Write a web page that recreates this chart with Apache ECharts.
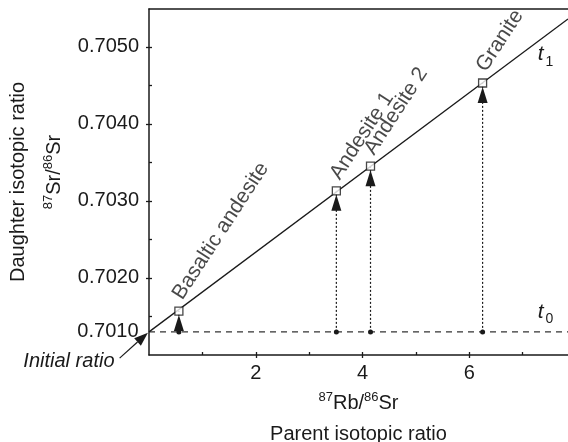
<!DOCTYPE html>
<html>
<head>
<meta charset="utf-8">
<script src="https://cdn.jsdelivr.net/npm/echarts@6/dist/echarts.min.js"></script>
<style>
html, body { margin: 0; background: #fff; }
#chart { width: 568px; height: 442px; }
</style>
</head>
<body>
<div id="chart"></div>
<script>
// samples on the isochron
var rockNames = ['Basaltic andesite', 'Andesite 1', 'Andesite 2', 'Granite'];
var rbSr = [0.56, 3.51, 4.15, 6.25];          // 87Rb/86Sr
var srSr = [0.70157, 0.70313, 0.70345, 0.70453]; // 87Sr/86Sr now (t1)
// t0 line and isochron ends
var initialRatio = 0.70130;
var initialLabel = '0.7010';
var isochronX = [0, 7.85];
var isochronY = [0.70130, 0.70536];
// "Initial ratio" pointer (data coords, left of the axis)
var pointerX = [-0.55, -0.02];
var pointerY = [0.70096, 0.70129];
var pointerText = [-1.50, 0.70091];
// axis ticks
var xMin = 0, xMax = 7.85;
var yMin = 0.7010, yMax = 0.70549;
var xMajor = [2, 4, 6];
var xMinor = [1, 2, 3, 4, 5, 6, 7];
var yMajor = [0.7020, 0.7030, 0.7040, 0.7050];
var yMinor = [0.7015, 0.7020, 0.7025, 0.7030, 0.7035, 0.7040, 0.7045, 0.7050];
var t1Pos = [7.43, 0.70490];
var t0Pos = [7.43, 0.70156];

var FONT = "'Liberation Sans', Arial, Helvetica, sans-serif";
var INK = '#1a1a1a';

var chart = echarts.init(document.getElementById('chart'));

function tLabel(sub) {
    return {
        show: true,
        position: 'inside',
        formatter: '{t|t}{s|' + sub + '}',
        rich: {
            t: { fontFamily: FONT, fontStyle: 'italic', fontSize: 21, color: INK, verticalAlign: 'bottom' },
            s: { fontFamily: FONT, fontSize: 14, color: INK, verticalAlign: 'bottom', padding: [0, 0, -4, 2] }
        }
    };
}

function supRich(lh, lead) {
    return {
        m: { fontFamily: FONT, fontSize: 20, color: INK, lineHeight: lh },
        u: { fontFamily: FONT, fontSize: 13, color: INK, lineHeight: lh, verticalAlign: 'top', padding: [lh / 2 - 12, 0, 0, 0] },
        p: { fontFamily: FONT, fontSize: 13, color: INK, lineHeight: lh, verticalAlign: 'top', padding: [lh / 2 - 12, 0, 0, lead] }
    };
}

var series = [];

// isochron t1
series.push({
    type: 'line',
    clip: false,
    data: isochronX.map(function (x, i) { return [x, isochronY[i]]; }),
    symbol: 'none',
    lineStyle: { color: INK, width: 1.3 },
    z: 3,
    markPoint: {
        symbol: 'circle',
        symbolSize: 1,
        itemStyle: { color: 'rgba(0,0,0,0)' },
        data: [{ coord: t1Pos, label: tLabel('1') }]
    }
});

// t0 dashed line
series.push({
    type: 'line',
    clip: false,
    data: [[xMin, initialRatio], [xMax, initialRatio]],
    symbol: 'none',
    lineStyle: { color: '#333', width: 1.3, type: [6, 5] },
    z: 2,
    markPoint: {
        symbol: 'circle',
        symbolSize: 1,
        itemStyle: { color: 'rgba(0,0,0,0)' },
        data: [
            { coord: t0Pos, label: tLabel('0') },
            { coord: [0, initialRatio], label: { show: true, position: 'left', distance: 10, formatter: initialLabel,
                fontFamily: FONT, fontSize: 20, color: INK } }
        ]
    }
});

// dotted arrows from t0 up to each sample
rbSr.forEach(function (x, i) {
    series.push({
        type: 'line',
        data: [
            { value: [x, initialRatio], symbol: 'circle', symbolSize: 5 },
            { value: [x, srSr[i]], symbol: 'triangle', symbolSize: [10, 16], symbolOffset: [0, 12] }
        ],
        showSymbol: true,
        itemStyle: { color: INK },
        lineStyle: { color: INK, width: 1.2, type: [2, 2] },
        z: 3
    });
});

// samples
series.push({
    type: 'scatter',
    data: rbSr.map(function (x, i) { return { value: [x, srSr[i]], name: rockNames[i] }; }),
    symbol: 'rect',
    symbolSize: 8,
    itemStyle: { color: '#fff', borderColor: INK, borderWidth: 1.3 },
    z: 5,
    label: {
        show: true,
        formatter: '{b}',
        position: [12, -3],
        align: 'left',
        verticalAlign: 'bottom',
        rotate: 57,
        fontFamily: FONT,
        fontSize: 21,
        color: INK
    }
});

chart.setOption({
    animation: false,
    grid: { left: 149, right: 0, top: 9, bottom: 87, containLabel: false, outerBoundsMode: 'none' },
    xAxis: [{
        type: 'value', min: xMin, max: xMax, interval: 2, position: 'bottom',
        axisLine: { lineStyle: { color: INK, width: 1.5 } },
        axisTick: { show: true, inside: false, length: 3, customValues: xMajor, lineStyle: { color: INK, width: 1.3 } },
        axisLabel: { customValues: xMajor, margin: 8, fontFamily: FONT, fontSize: 20, color: INK },
        splitLine: { show: false },
        name: '{u|87}{m|Rb/}{u|86}{m|Sr}\n{m|Parent isotopic ratio}',
        nameLocation: 'middle',
        nameGap: 28,
        nameTextStyle: { rich: supRich(31, 0) }
    }, {
        type: 'value', min: xMin, max: xMax, position: 'bottom',
        axisLine: { show: false },
        axisTick: { show: true, inside: true, length: 3, customValues: xMinor, lineStyle: { color: INK, width: 1.3 } },
        axisLabel: { show: false },
        splitLine: { show: false }
    }, {
        type: 'value', min: xMin, max: xMax, position: 'top',
        axisLine: { show: true, lineStyle: { color: INK, width: 1.5 } },
        axisTick: { show: false }, axisLabel: { show: false }, splitLine: { show: false }
    }],
    yAxis: [{
        type: 'value', min: yMin, max: yMax, interval: 0.001, position: 'left',
        axisLine: { show: true, lineStyle: { color: INK, width: 1.5 } },
        axisTick: { show: true, inside: false, length: 3, customValues: yMajor, lineStyle: { color: INK, width: 1.3 } },
        axisLabel: {
            customValues: yMajor, margin: 10, fontFamily: FONT, fontSize: 20, color: INK,
            formatter: function (v) { return v.toFixed(4); }
        },
        splitLine: { show: false },
        name: '{m|Daughter isotopic ratio}\n{p|87}{m|Sr/}{u|86}{m|Sr}',
        nameLocation: 'middle',
        nameRotate: 90,
        nameGap: 77,
        nameTextStyle: { rich: supRich(36, 20) }
    }, {
        type: 'value', min: yMin, max: yMax, position: 'left',
        axisLine: { show: false },
        axisTick: { show: true, inside: true, length: 3, customValues: yMinor, lineStyle: { color: INK, width: 1.3 } },
        axisLabel: { show: false },
        splitLine: { show: false }
    }],
    series: series
});

// "Initial ratio" pointer sits left of the axis, outside the markers' range,
// so place it through the grid's own scale
var p0 = chart.convertToPixel({ gridIndex: 0 }, [pointerX[0], pointerY[0]]);
var p1 = chart.convertToPixel({ gridIndex: 0 }, [pointerX[1], pointerY[1]]);
var pt = chart.convertToPixel({ gridIndex: 0 }, pointerText);
var ang = Math.atan2(p1[1] - p0[1], p1[0] - p0[0]);
var headLen = 14, headW = 5;
var bx = p1[0] - headLen * Math.cos(ang), by = p1[1] - headLen * Math.sin(ang);
chart.setOption({
    graphic: [{
        type: 'line',
        shape: { x1: p0[0], y1: p0[1], x2: bx, y2: by },
        style: { stroke: INK, lineWidth: 1.2 }
    }, {
        type: 'polygon',
        shape: { points: [
            [p1[0], p1[1]],
            [bx + headW * Math.sin(ang), by - headW * Math.cos(ang)],
            [bx - headW * Math.sin(ang), by + headW * Math.cos(ang)]
        ] },
        style: { fill: INK }
    }, {
        type: 'text',
        x: pt[0], y: pt[1],
        style: { text: 'Initial ratio', font: 'italic 20px ' + FONT, fill: INK, align: 'center', verticalAlign: 'middle' }
    }]
});
</script>
</body>
</html>
